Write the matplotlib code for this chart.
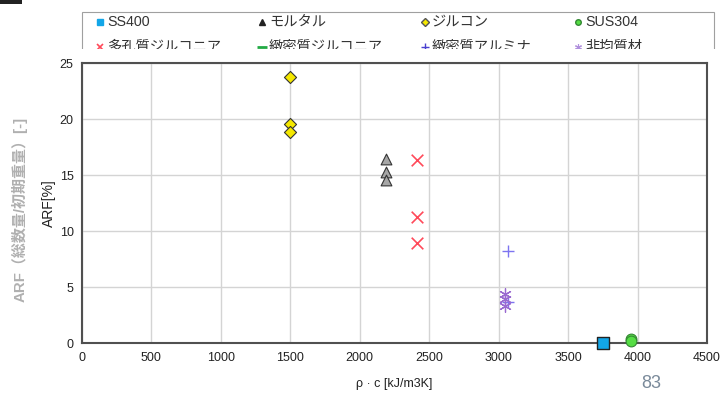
import matplotlib
matplotlib.use('Agg')
import matplotlib.pyplot as plt
from matplotlib.lines import Line2D
from matplotlib.patches import Rectangle

plt.rcParams['font.family'] = ['Liberation Sans', 'Noto Sans CJK JP', 'DejaVu Sans']

# data
ss400_x = [3750]
ss400_y = [0.05]
mortar_x = [2190, 2190, 2190]
mortar_y = [16.45, 15.3, 14.6]
zircon_x = [1500, 1500, 1500]
zircon_y = [23.8, 19.55, 18.9]
sus304_x = [3950, 3950]
sus304_y = [0.35, 0.2]
porous_zr_x = [2410, 2410, 2410]
porous_zr_y = [16.4, 11.25, 9.0]
dense_zr_x = []
dense_zr_y = []
dense_al_x = [3070, 3070]
dense_al_y = [8.2, 3.7]
hetero_x = [3045, 3045, 3045]
hetero_y = [4.4, 3.95, 3.35]

LABELS = ['SS400', 'モルタル', 'ジルコン', 'SUS304',
          '多孔質ジルコニア', '緻密質ジルコニア', '緻密質アルミナ', '非均質材']
xticks = list(range(0, 4501, 500))
yticks = list(range(0, 26, 5))

fig = plt.figure(figsize=(7.2, 3.93), dpi=100)
ax = fig.add_axes([82/720, 1-343.3/393, 625/720, 280/393])
ax.set_zorder(3)

ax.scatter(zircon_x, zircon_y, marker='D', s=38, c='#f5e800', edgecolors='#333333', linewidths=0.8, zorder=3)
ax.scatter(mortar_x, mortar_y, marker='^', s=60, c='#a6a6a6', edgecolors='#333333', linewidths=0.8, zorder=3)
ax.scatter(porous_zr_x, porous_zr_y, marker='x', s=70, c='#ff4a5a', linewidths=1.2, zorder=3)
ax.scatter(dense_zr_x, dense_zr_y, marker='_', s=60, c='#22aa44', zorder=3)
ax.scatter(dense_al_x, dense_al_y, marker='+', s=70, c='#7d74f0', linewidths=1.0, zorder=3)
ax.scatter(hetero_x, hetero_y, marker=(6, 2, 0), s=70, c='#9a6ad0', linewidths=0.9, zorder=3)
ax.scatter(ss400_x, ss400_y, marker='s', s=75, c='#12a6e8', edgecolors='#222222', linewidths=1.0, zorder=4, clip_on=False)
ax.scatter(sus304_x, sus304_y, marker='o', s=60, c='#55dd44', edgecolors='#338833', linewidths=0.8, zorder=4, clip_on=False)

ax.set_xlim(0, 4500)
ax.set_ylim(0, 25)
ax.set_xticks(xticks)
ax.set_yticks(yticks)
ax.grid(color='#d4d4d4', linewidth=1.0)
ax.set_axisbelow(True)
for sp in ax.spines.values():
    sp.set_color('#505050')
    sp.set_linewidth(1.5)
ax.tick_params(length=0, labelsize=9, colors='#222222', pad=6)
ax.set_xlabel('ρ · c [kJ/m3K]', fontsize=9, color='#222222', labelpad=10)
ax.set_ylabel('ARF[%]', fontsize=10, color='#222222', labelpad=3)

# legend (Excel style, equal-width columns, lower part hidden behind the plot area)
leg_styles = [
    dict(marker='s', ms=4, mfc='#12a6e8', mec='#12a6e8'),
    dict(marker='^', ms=5, mfc='#222222', mec='#222222'),
    dict(marker='D', ms=4, mfc='#f5e800', mec='#555555'),
    dict(marker='o', ms=4, mfc='#55dd44', mec='#338833'),
    dict(marker='x', ms=5, mec='#ff4a5a', mew=1.2),
    dict(marker='_', ms=7, mec='#22aa44', mew=2),
    dict(marker='+', ms=6, mec='#4a40d0', mew=1),
    dict(marker=(6, 2, 0), ms=5, mec='#b090dd', mew=0.8),
]
col_x = [100, 262, 425, 578]
row_y = [22, 47]
fig.add_artist(Rectangle((82/720, 1-60/393), 632/720, 48/393, transform=fig.transFigure,
                         facecolor='white', edgecolor='#a0a0a0', linewidth=0.8, zorder=1))
for i, (lab, st) in enumerate(zip(LABELS, leg_styles)):
    cx = col_x[i % 4] / 720
    cy = 1 - row_y[i // 4] / 393
    fig.add_artist(Line2D([cx], [cy], ls='', transform=fig.transFigure, zorder=1.5, **st))
    fig.text(cx + 7/720, cy, lab, ha='left', va='center', fontsize=10.3, color='#333333', zorder=1.5)

# white cover for the lower part of the legend box
fig.add_artist(Rectangle((0, 0), 1, 1-49/393, transform=fig.transFigure,
                         facecolor='white', edgecolor='none', zorder=2))

fig.text(20/720, 1-209/393, 'ARF（総数量/初期重量）[-]', rotation=90, ha='center', va='center',
         fontsize=10.8, color='#b0b0b0', fontweight='bold', zorder=4)
fig.text(651/720, 1-383/393, '83', ha='center', va='center', fontsize=13, color='#7a8a9a', zorder=4)
fig.add_artist(Rectangle((0, 1-4/393), 22/720, 4/393, transform=fig.transFigure,
                         facecolor='#222222', edgecolor='none', zorder=4))

fig.savefig('out.png', dpi=100)
